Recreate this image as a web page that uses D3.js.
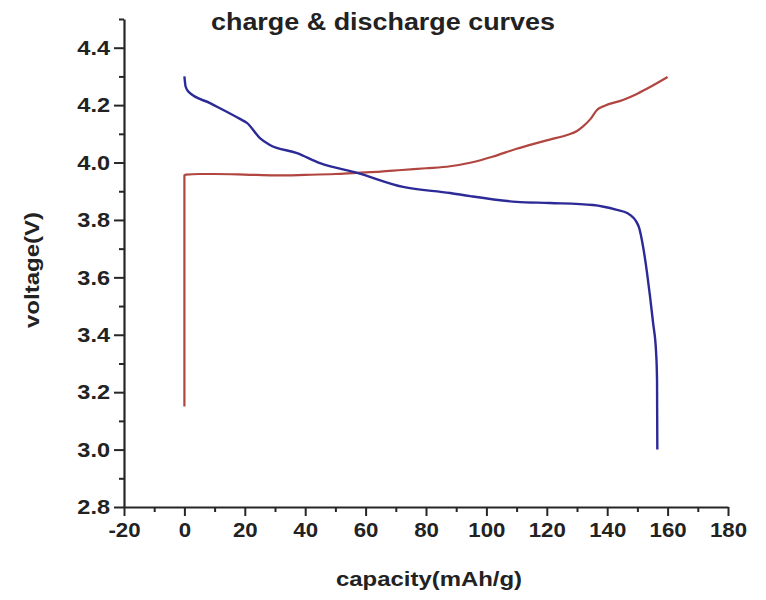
<!DOCTYPE html>
<html>
<head>
<meta charset="utf-8">
<script src="https://cdn.jsdelivr.net/npm/d3@7"></script>
<style>
  html, body { margin: 0; padding: 0; background: #ffffff; }
  svg { display: block; }
  text { font-family: "Liberation Sans", Arial, sans-serif; font-weight: bold; fill: #222; }
</style>
</head>
<body>
<svg id="chart" width="766" height="600"></svg>
<script>
// ---- data ----
const chargeCapacity = [0, 0, 0.5, 5, 10, 20, 30, 40, 50, 57, 65, 72, 80, 88, 95, 102, 110, 116, 121, 126.7, 130, 132, 134.5, 136.6, 139, 145.2, 150, 154.2, 160];
const chargeVoltage  = [3.15, 3.955, 3.958, 3.960, 3.960, 3.958, 3.955, 3.957, 3.960, 3.964, 3.968, 3.974, 3.980, 3.987, 4.000, 4.020, 4.048, 4.066, 4.080, 4.096, 4.110, 4.126, 4.152, 4.183, 4.197, 4.218, 4.240, 4.263, 4.298];

const dischargeCapacity = [0, 0.4, 1.5, 8.5, 18.4, 20.7, 25, 28.3, 37.3, 44.9, 57.2, 72.4, 88, 94.6, 110, 121, 135.3, 143.2, 146.6, 149.9, 150.5, 151.9, 153.2, 154.2, 155.2, 156.2, 156.5, 156.6];
const dischargeVoltage  = [4.30, 4.265, 4.245, 4.207, 4.152, 4.138, 4.085, 4.061, 4.033, 3.998, 3.964, 3.915, 3.894, 3.883, 3.863, 3.859, 3.852, 3.835, 3.824, 3.789, 3.775, 3.706, 3.615, 3.532, 3.441, 3.337, 3.242, 3.00];

const xTicks = [-20, 0, 20, 40, 60, 80, 100, 120, 140, 160, 180];
const yTicks = [2.8, 3.0, 3.2, 3.4, 3.6, 3.8, 4.0, 4.2, 4.4];
const xMinorTicks = [-10, 10, 30, 50, 70, 90, 110, 130, 150, 170];
const yMinorTicks = [2.9, 3.1, 3.3, 3.5, 3.7, 3.9, 4.1, 4.3, 4.5];

const titleText = "charge & discharge curves";
const xLabel = "capacity(mAh/g)";
const yLabel = "voltage(V)";

// ---- layout ----
const svg = d3.select("#chart");
const x = d3.scaleLinear().domain([-20, 180]).range([124, 728]);
const y = d3.scaleLinear().domain([2.8, 4.5]).range([507, 19]);

const axisColor = "#262626";

// minor ticks
const gxMinor = svg.append("g").attr("transform", `translate(0,${y(2.8)})`)
  .call(d3.axisBottom(x).tickValues(xMinorTicks).tickSize(5).tickFormat(""));
const gyMinor = svg.append("g").attr("transform", `translate(${x(-20)},0)`)
  .call(d3.axisLeft(y).tickValues(yMinorTicks).tickSize(5).tickFormat(""));

// major axes
const gx = svg.append("g").attr("transform", `translate(0,${y(2.8)})`)
  .call(d3.axisBottom(x).tickValues(xTicks).tickSize(9).tickSizeOuter(0).tickPadding(6).tickFormat(d => String(d)));
const gy = svg.append("g").attr("transform", `translate(${x(-20)},0)`)
  .call(d3.axisLeft(y).tickValues(yTicks).tickSize(10).tickSizeOuter(0).tickPadding(4).tickFormat(d3.format(".1f")));

[gx, gy, gxMinor, gyMinor].forEach(g => {
  g.selectAll(".domain").attr("stroke", axisColor).attr("stroke-width", 2.2);
  g.selectAll(".tick line").attr("stroke", axisColor).attr("stroke-width", 2);
});
gxMinor.select(".domain").remove();
gyMinor.select(".domain").remove();

[gx, gy].forEach(g => g.selectAll(".tick text").attr("font-size", 21).attr("fill", "#222")
  .style("font-family", "'Liberation Sans', Arial, sans-serif").style("font-weight", "bold"));

// slightly widened tick labels (reference text is wide)
function widen(sel, k) {
  sel.each(function() {
    const len = this.getComputedTextLength();
    d3.select(this).attr("textLength", len * k).attr("lengthAdjust", "spacingAndGlyphs");
  });
}
widen(gx.selectAll(".tick text"), 1.06);
widen(gy.selectAll(".tick text"), 1.12);

// ---- curves ----
const lineLinear = d3.line().x(d => x(d[0])).y(d => y(d[1]));
const lineSmooth = d3.line().curve(d3.curveMonotoneX).x(d => x(d[0])).y(d => y(d[1]));

const chargeData = chargeCapacity.map((c, i) => [c, chargeVoltage[i]]);
const dischargeData = dischargeCapacity.map((c, i) => [c, dischargeVoltage[i]]);

// charge: vertical rise at zero capacity, then smooth plateau
const chargePath = lineLinear(chargeData.slice(0, 2)) + lineSmooth(chargeData.slice(1)).replace(/^M[^CLZ]*/, "");
svg.append("path")
  .attr("d", chargePath).attr("fill", "none")
  .attr("stroke", "#b0463f").attr("stroke-width", 2.2)
  .attr("stroke-linejoin", "round");

svg.append("path").datum(dischargeData)
  .attr("d", lineSmooth).attr("fill", "none")
  .attr("stroke", "#2c2a96").attr("stroke-width", 2.4)
  .attr("stroke-linejoin", "round");

// ---- titles ----
svg.append("text").attr("x", 383).attr("y", 30)
  .attr("text-anchor", "middle").attr("font-size", 23)
  .attr("textLength", 344).attr("lengthAdjust", "spacingAndGlyphs")
  .text(titleText);

svg.append("text").attr("x", 429).attr("y", 586)
  .attr("text-anchor", "middle").attr("font-size", 20)
  .attr("textLength", 186).attr("lengthAdjust", "spacingAndGlyphs")
  .text(xLabel);

svg.append("text")
  .attr("transform", `translate(39,270) rotate(-90)`)
  .attr("text-anchor", "middle").attr("font-size", 20)
  .attr("textLength", 116).attr("lengthAdjust", "spacingAndGlyphs")
  .text(yLabel);
</script>
</body>
</html>
